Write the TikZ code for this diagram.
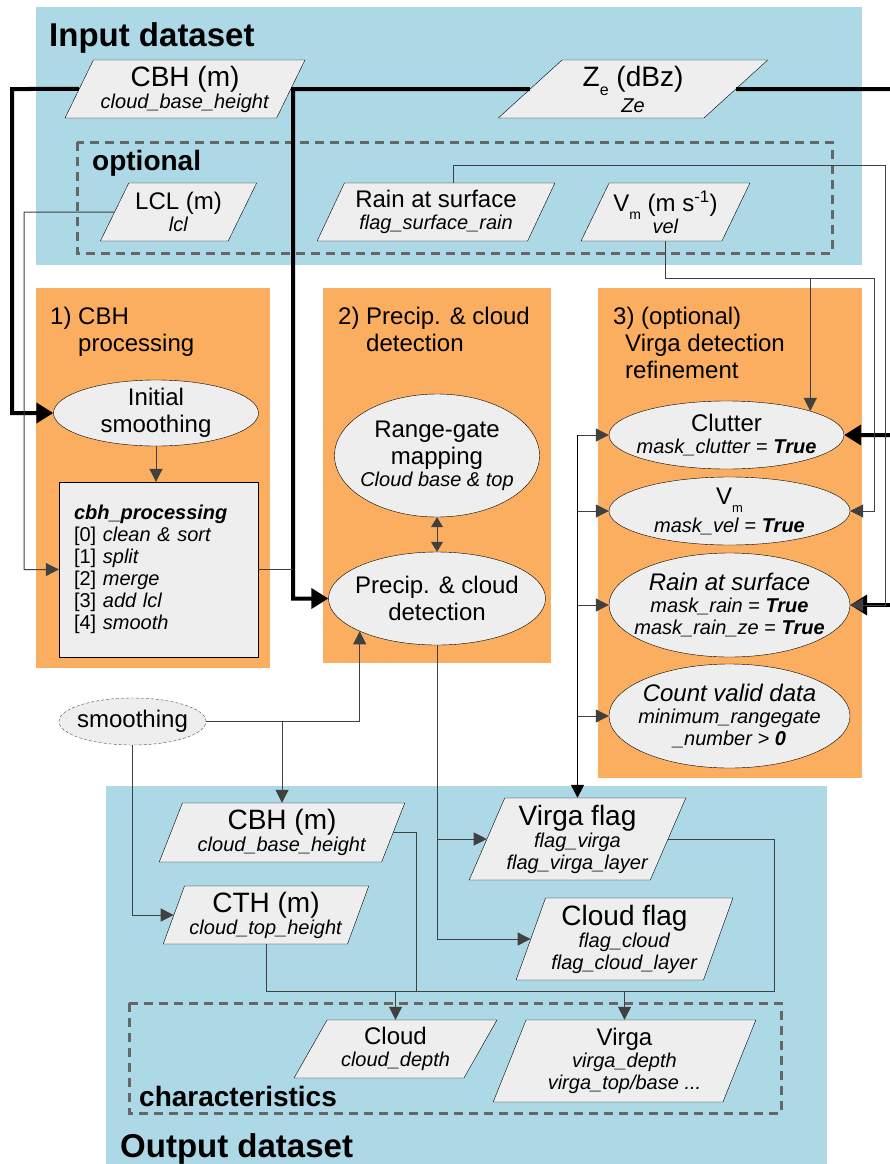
\documentclass[tikz,border=0pt]{standalone}
\usepackage{fontspec}
\setmainfont{Liberation Sans}
\usetikzlibrary{shapes.geometric, arrows.meta, positioning}

\definecolor{inblue}{RGB}{173,216,230}
\definecolor{procorange}{RGB}{252,174,96}
\definecolor{boxgray}{RGB}{238,238,238}
\definecolor{dashgray}{RGB}{102,102,102}

\newcommand{\titlesz}{\fontsize{33}{36}\selectfont\bfseries}
\newcommand{\headsz}{\fontsize{28}{30}\selectfont\bfseries}
\newcommand{\bigsz}{\fontsize{28}{31}\selectfont}
\newcommand{\midsz}{\fontsize{24}{27}\selectfont}
\newcommand{\smallsz}{\fontsize{20}{22}\selectfont}
% low, small subscript as in the input sheets
\newcommand{\lowsub}[3]{\raisebox{-#1}[0pt][0pt]{\fontsize{#2}{#2}\selectfont #3}}

\begin{document}
\begin{tikzpicture}[x=1pt, y=-1pt,
    dims/.style 2 args={minimum width=#1, minimum height=#2},
    databox/.style={trapezium, trapezium left angle=#1, trapezium right angle=180-#1, trapezium stretches=true, draw=black, fill=boxgray, inner xsep=-12pt, inner ysep=-6pt, align=center, font=\smallsz},
    databox/.default=57,
    proc/.style={ellipse, draw=black, fill=boxgray, inner xsep=-30pt, inner ysep=-12pt, align=center, font=\midsz},
    heading/.style={anchor=base west, inner sep=0pt, align=left, font=\midsz},
    link/.style={line width=1pt, draw=black!75},
    arrow/.style={link, -{Triangle[length=13pt, width=13pt]}},
    twoway/.style={link, {Triangle[length=10pt, width=12pt]}-{Triangle[length=10pt, width=12pt]}},
    bigarrow/.style={line width=4pt, -{Triangle[length=17pt, width=20pt]}},
    dashbox/.style={draw=dashgray, line width=3pt, dash pattern=on 9pt off 6pt}
]
    \useasboundingbox (0,0) rectangle (889,1164);

    % panels
    \fill[inblue] (36,7) rectangle (862,265);
    \fill[procorange] (36,288) rectangle (270,668);
    \fill[procorange] (323,288) rectangle (551,663);
    \fill[procorange] (598,288) rectangle (862,778);
    \fill[inblue] (106,786) rectangle (827,1170);
    \draw[dashbox] (77,142) rectangle (832,253);
    \draw[dashbox] (129,1003) rectangle (781,1113);

    % headings (anchored on the baseline of their last line)
    \node[heading, font=\titlesz] (intitle) at (49,47) {Input dataset};
    \node[heading, font=\headsz] (opttitle) at (92,170) {optional};
    \node[heading] (proc1title) at (50,351) {1) CBH\\\hphantom{1) }processing};
    \node[heading] (proc2title) at (338,351) {2) Precip. \& cloud\\\hphantom{2) }detection};
    \node[heading] (proc3title) at (613,378) {3) (optional)\\\hspace*{12pt}Virga detection\\\hspace*{12pt}refinement};
    \node[heading, font=\headsz] (chartitle) at (139,1106) {characteristics};
    \node[heading, font=\titlesz] (outtitle) at (120,1157) {Output dataset};

    % input variables
    \node[databox, dims={240pt}{58pt}] (cbhin) at (185,89) {{\bigsz CBH (m)}\\\textit{cloud\_base\_height}};
    \node[databox=45, dims={270pt}{58pt}] (zein) at (633,89) {{\bigsz Z\lowsub{9pt}{16}{e} (dBz)}\\[4pt]\textit{Ze}};
    \node[databox, dims={157pt}{58pt}] (lclin) at (178.5,212) {{\midsz LCL (m)}\\\textit{lcl}};
    \node[databox, dims={238pt}{58pt}] (rainin) at (436,212) {{\midsz Rain at surface}\\\textit{flag\_surface\_rain}};
    \node[databox, dims={169pt}{58pt}] (velin) at (665.5,212) {{\midsz V\lowsub{8pt}{14}{m} (m s\textsuperscript{-1})}\\\textit{vel}};

    % 1) cbh processing
    \node[proc, dims={205pt}{66pt}] (initial) at (156,413) {Initial\\smoothing};
    \node[rectangle, draw=black, fill=boxgray, dims={199pt}{175pt}, text width=169pt, inner xsep=15pt, inner ysep=0pt, align=left, font=\smallsz] (cbhproc) at (158.5,569.5)
        {\textbf{\textit{cbh\_processing}}\\{[0]} \textit{clean \& sort}\\{[1]} \textit{split}\\{[2]} \textit{merge}\\{[3]} \textit{add lcl}\\{[4]} \textit{smooth}};

    % 2) precipitation and cloud detection
    \node[proc, dims={205pt}{123pt}] (rangegate) at (437,455.5) {Range-gate\\mapping\\[-5pt]{\smallsz\textit{Cloud base \& top}}};
    \node[proc, dims={217pt}{93pt}] (precip) at (437,598.5) {Precip. \& cloud\\detection};

    % 3) virga refinement
    \node[proc, font=\smallsz, dims={235pt}{68pt}] (clutter) at (726.5,435) {{\midsz Clutter}\\\textit{mask\_clutter} = \textbf{\textit{True}}};
    \node[proc, font=\smallsz, dims={241pt}{68pt}] (vm) at (729.5,511) {{\midsz V\lowsub{8pt}{13}{m}}\\[6pt]\textit{mask\_vel} = \textbf{\textit{True}}};
    \node[proc, font=\smallsz, dims={241pt}{104pt}] (rainmask) at (729.5,605) {{\midsz\itshape Rain at surface}\\\textit{mask\_rain} = \textbf{\textit{True}}\\\textit{mask\_rain\_ze} = \textbf{\textit{True}}};
    \node[proc, font=\smallsz, dims={241pt}{104pt}] (count) at (729.5,716) {{\midsz\itshape Count valid data}\\\textit{minimum\_rangegate}\\\textit{\_number >} \textbf{\textit{0}}};

    \node[proc, draw=black!70, dash pattern=on 3pt off 2pt, dims={147pt}{47pt}] (smoothing) at (132.5,721.5) {smoothing};

    % output variables
    \node[databox=64, dims={246pt}{59pt}] (cbhout) at (282,832.5) {{\bigsz CBH (m)}\\\textit{cloud\_base\_height}};
    \node[databox=64, dims={206pt}{58pt}] (cthout) at (266,915) {{\bigsz CTH (m)}\\\textit{cloud\_top\_height}};
    \node[databox=63, dims={217pt}{82pt}] (virgaflag) at (577.5,839) {{\bigsz Virga flag}\\\textit{flag\_virga}\\\textit{flag\_virga\_layer}};
    \node[databox=68, dims={217pt}{82pt}] (cloudflag) at (624.5,939) {{\bigsz Cloud flag}\\\textit{flag\_cloud}\\\textit{flag\_cloud\_layer}};
    \node[databox, dims={203pt}{58pt}] (cloudchar) at (395.5,1049) {{\midsz Cloud}\\\textit{cloud\_depth}};
    \node[databox=68, dims={263pt}{82pt}] (virgachar) at (624.5,1061) {{\midsz Virga}\\\textit{virga\_depth}\\\textit{virga\_top/base ...}};

    % turning points
    \coordinate (cbhleft) at (12,89);
    \coordinate (zeleft) at (293,89);
    \coordinate (zeright) at (900,89);
    \coordinate (lclleft) at (24,212);
    \coordinate (rainturn) at (885,165);
    \coordinate (velturn) at (874,278);
    \coordinate (velsplit) at (810,278);
    \coordinate (merge) at (416,991);
    \coordinate (mergeright) at (774,991);

    % main inputs
    \draw[bigarrow] (cbhin.west) -- (cbhleft) |- (initial.west);
    \draw[bigarrow] (zein.west) -- (zeleft) |- (precip.west);
    \draw[bigarrow] (zein.east) -- (zeright) |- (clutter.east);
    \draw[bigarrow] (zeright) |- (rainmask.east);

    % optional inputs
    \draw[arrow] (lclin.west) -- (lclleft) |- (cbhproc.west);
    \draw[arrow] ([xshift=17pt]rainin.north) |- (rainturn) |- (rainmask.east);
    \draw[arrow] (velin.south) |- (velturn) |- (vm.east);
    \draw[arrow] (clutter.16 |- velsplit) -- (clutter.16);

    % processing chain
    \draw[arrow] (initial.south) -- (initial.south |- cbhproc.north);
    \draw[link] (cbhproc.east) -- (zeleft |- cbhproc.east);
    \draw[twoway] (rangegate) -- (precip);
    \draw[arrow] (smoothing.east) -| (precip.203);
    \draw[arrow] (smoothing.east) -| (cbhout.north);
    \draw[arrow] (smoothing.south) |- (cthout.west);
    \draw[arrow] (precip.south) |- (virgaflag.west);
    \draw[arrow] (precip.south) |- (cloudflag.west);

    % virga refinement bus
    \draw[arrow, line width=1.5pt, draw=black] (virgaflag.north |- clutter.west) -- (virgaflag.north);
    \foreach \mask in {clutter, vm, rainmask, count}
        \draw[arrow] (virgaflag.north |- \mask.west) -- (\mask.west);

    % characteristics
    \draw[link] (cbhout.east) -| (merge);
    \draw[link] (cthout.south) |- (merge);
    \draw[link] (virgaflag.east) -| (mergeright) -- (merge);
    \draw[arrow] (merge) -| (cloudchar.north);
    \draw[arrow] (merge) -| (virgachar.north);
\end{tikzpicture}
\end{document}
